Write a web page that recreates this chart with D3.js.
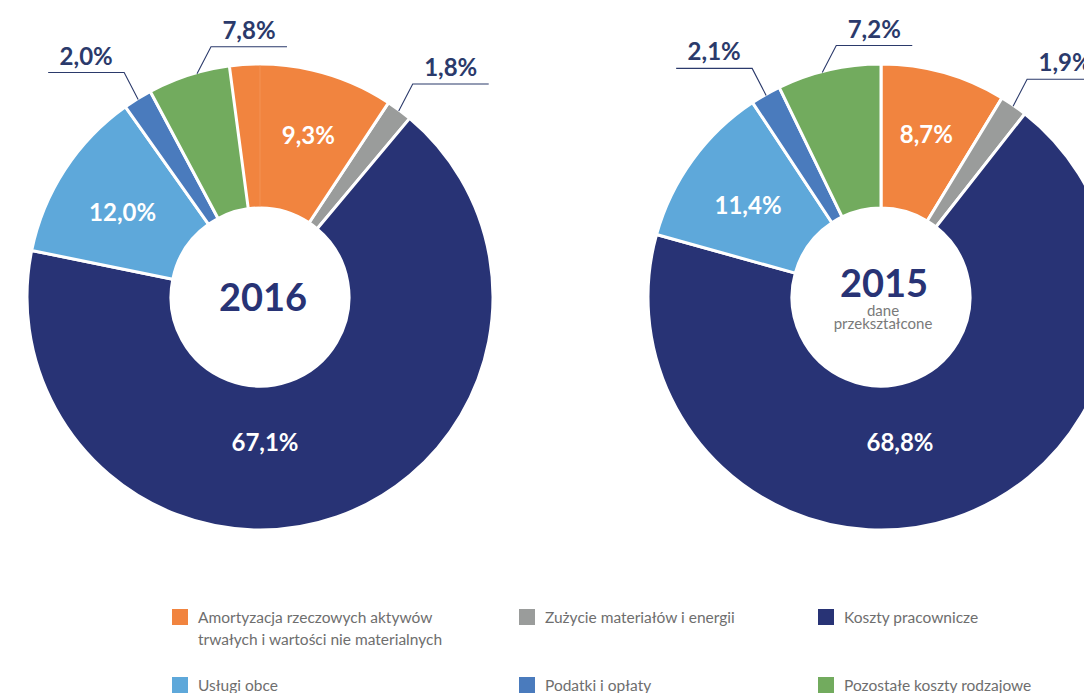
<!DOCTYPE html>
<html>
<head>
<meta charset="utf-8">
<script src="https://cdn.jsdelivr.net/npm/d3@7"></script>
<style>
  body { margin: 0; background: #fff; }
  svg { display: block; }
</style>
</head>
<body>
<svg id="chart" width="1084" height="693"></svg>
<script>
// ── Data ──
const categories = [
    ["Amortyzacja rzeczowych aktywów", "trwałych i wartości nie materialnych"],
    ["Zużycie materiałów i energii"],
    ["Koszty pracownicze"],
    ["Usługi obce"],
    ["Podatki i opłaty"],
    ["Pozostałe koszty rodzajowe"]
];
const shares2016 = [9.3, 1.8, 67.1, 12.0, 2.0, 7.8];
const shares2015 = [8.7, 1.9, 68.8, 11.4, 2.1, 7.2];
const years = ["2016", "2015"];
const yearNotes = [[], ["dane", "przekształcone"]];
// in the source figure the last 2.1 points of the green 2016 slice are painted orange
const recolored2016 = 2.1;

// ── Style ──
const colors = ["#f1843f", "#9a9c9b", "#283375", "#5ea8da", "#4a7bbd", "#72ab5e"];
const labelInk = "#2b3a6b";
const boldFont = "Lato, 'Open Sans', sans-serif";
const R = 233, r0 = 89;
const centers = [[260, 297], [881, 297]];
const insideIdx = [0, 2, 3];
const outsideSide = { 1: 1, 4: -1, 5: 1 };   // which way the leader's horizontal runs
const angleNudge = { 3: -0.03, 5: -0.03 };   // small angular shifts of label anchors
const navyLabelDx = [5, 19];                  // "67,1%" / "68,8%" sit near the bottom, not on the centroid

const fmt = v => v.toFixed(1).replace(".", ",") + "%";

const svg = d3.select("#chart");
const pie = d3.pie().sort(null).value(d => d);
const arc = d3.arc().innerRadius(r0).outerRadius(R);

function polar(a, rad) { return [Math.sin(a) * rad, -Math.cos(a) * rad]; }

function drawDonut(shares, k) {
    const [cx, cy] = centers[k];
    const g = svg.append("g").attr("transform", `translate(${cx},${cy})`);
    const slices = pie(shares);

    g.selectAll("path.slice")
        .data(slices)
        .enter().append("path")
        .attr("class", "slice")
        .attr("d", arc)
        .attr("fill", (d, i) => colors[i])
        .attr("stroke", "#fff")
        .attr("stroke-width", 3)
        .attr("stroke-linejoin", "round");

    // orange over-paint of the tail of the green slice (2016 only)
    if (k === 0) {
        const span = (slices[5].endAngle - slices[5].startAngle) * recolored2016 / shares[5];
        const from = slices[5].endAngle - span - 2 * Math.PI;
        g.append("path")
            .attr("d", arc({ startAngle: from, endAngle: slices[0].endAngle }))
            .attr("fill", colors[0])
            .attr("stroke", "#fff").attr("stroke-width", 3);
        const [ax, ay] = polar(0, r0 + 1.5), [bx, by] = polar(0, R - 1.5);
        g.append("line")
            .attr("x1", ax).attr("y1", ay).attr("x2", bx).attr("y2", by)
            .attr("stroke", "#f5975a").attr("stroke-width", 0.8);
    }

    // inside labels
    insideIdx.forEach(i => {
        const mid = (slices[i].startAngle + slices[i].endAngle) / 2 + (angleNudge[i] || 0);
        let [x, y] = polar(mid, i === 0 ? 168 : 161);
        if (i === 2) { x = navyLabelDx[k]; y = 146; }
        g.append("text")
            .attr("x", x).attr("y", y + 8)
            .attr("text-anchor", "middle")
            .attr("font-family", boldFont).attr("font-weight", 700)
            .attr("font-size", 24).attr("fill", "#fff")
            .text(fmt(shares[i]));
    });

    // outside labels with leader lines
    Object.keys(outsideSide).forEach(key => {
        const i = +key, side = outsideSide[i];
        const mid = (slices[i].startAngle + slices[i].endAngle) / 2 + (angleNudge[i] || 0);
        const [sx, sy] = polar(mid, R - 1);
        const ex = sx + side * 14, ey = sy - 27;
        const hx = ex + side * 76;
        g.append("path")
            .attr("d", `M${sx},${sy}L${ex},${ey}L${hx},${ey}`)
            .attr("fill", "none")
            .attr("stroke", labelInk).attr("stroke-width", 1.1);
        g.append("text")
            .attr("x", (ex + hx) / 2).attr("y", ey - 8)
            .attr("text-anchor", "middle")
            .attr("font-family", boldFont).attr("font-weight", 700)
            .attr("font-size", 24).attr("fill", labelInk)
            .text(fmt(shares[i]));
    });

    // centre caption
    const notes = yearNotes[k];
    g.append("text")
        .attr("x", 3).attr("y", notes.length ? 0 : 14)
        .attr("text-anchor", "middle")
        .attr("font-family", boldFont).attr("font-weight", 700)
        .attr("font-size", 38).attr("fill", colors[2])
        .text(years[k]);
    notes.forEach((t, j) => {
        g.append("text")
            .attr("x", 2).attr("y", 19 + j * 13)
            .attr("text-anchor", "middle")
            .attr("font-family", "Lato, 'Open Sans', sans-serif")
            .attr("font-size", 15).attr("fill", "#7a7a7a")
            .text(t);
    });
}

drawDonut(shares2016, 0);
drawDonut(shares2015, 1);

// ── Legend ──
const legX = [172, 519, 818], legY = [609, 677];
const legend = svg.append("g");
categories.forEach((lines, i) => {
    const x = legX[i % 3], y = legY[Math.floor(i / 3)];
    legend.append("rect")
        .attr("x", x).attr("y", y).attr("width", 16).attr("height", 16)
        .attr("fill", colors[i]);
    const t = legend.append("text")
        .attr("font-family", "Lato, 'Open Sans', sans-serif")
        .attr("font-size", 15.5).attr("fill", "#6e6e6e");
    lines.forEach((line, j) => {
        t.append("tspan").attr("x", x + 26).attr("y", y + 14 + j * 22).text(line);
    });
});
</script>
</body>
</html>
